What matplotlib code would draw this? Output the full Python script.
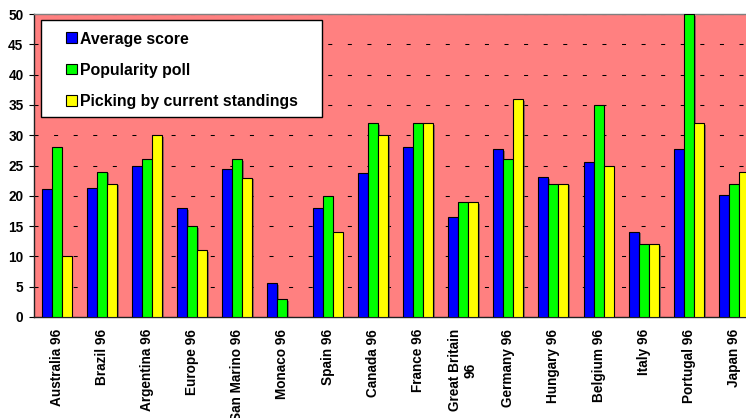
import numpy as np
import matplotlib
matplotlib.use("Agg")
import matplotlib.pyplot as plt
from matplotlib.patches import Rectangle
import matplotlib.patheffects as pe

categories = ["Australia 96", "Brazil 96", "Argentina 96", "Europe 96", "San Marino 96",
              "Monaco 96", "Spain 96", "Canada 96", "France 96", "Great Britain\n96",
              "Germany 96", "Hungary 96", "Belgium 96", "Italy 96", "Portugal 96", "Japan 96"]
average_score = [21.1, 21.3, 25.0, 18.0, 24.4, 5.6, 18.0, 23.7, 28.0, 16.5,
                 27.7, 23.1, 25.5, 14.1, 27.8, 20.1]
popularity_poll = [28, 24, 26, 15, 26, 3, 20, 32, 32, 19, 26, 22, 35, 12, 50, 22]
current_standings = [10, 22, 30, 11, 23, 0, 14, 30, 32, 19, 36, 22, 25, 12, 32, 24]
series_names = ["Average score", "Popularity poll", "Picking by current standings"]
series_colors = ["#0000FF", "#00FF00", "#FFFF00"]
y_ticks = [0, 5, 10, 15, 20, 25, 30, 35, 40, 45, 50]

plt.rcParams['font.family'] = ['Liberation Sans', 'DejaVu Sans']
plt.rcParams['font.weight'] = 'bold'
plt.rcParams['lines.scale_dashes'] = False

W, H = 746, 418
fig = plt.figure(figsize=(W / 100, H / 100), dpi=100)
fig.patch.set_facecolor("white")

ax_left, ax_top, ax_bottom = 34.0, 14.0, 317.0
slot = 45.17
ax_width = slot * len(categories)
ax = fig.add_axes([ax_left / W, (H - ax_bottom) / H, ax_width / W, (ax_bottom - ax_top) / H])
ax.set_facecolor("#FF8080")

x = np.arange(len(categories))
w = 0.2214
shadow = [pe.SimplePatchShadow(offset=(1.3, -1.3), shadow_rgbFace="#505050", alpha=0.6), pe.Normal()]
for i, (vals, col) in enumerate(zip([average_score, popularity_poll, current_standings], series_colors)):
    bars = ax.bar(x + (i - 1) * w, vals, width=w, color=col, edgecolor="black", linewidth=0.8,
                  zorder=3)
    for b in bars:
        if b.get_height() > 0:
            b.set_path_effects(shadow)
        else:
            b.set_visible(False)

ax.set_xlim(-0.5, len(categories) - 0.5)
ax.set_ylim(0, 50)
ax.set_yticks(y_ticks)
ax.set_yticklabels([str(t) for t in y_ticks], fontsize=9.8, fontweight='bold')
ax.set_xticks(x)
ax.set_xticklabels(categories, rotation=90, fontsize=9.8, fontweight='bold',
                   ha='center', va='top', multialignment='center', linespacing=1.15)
ax.tick_params(axis='x', length=0, pad=8.5)
ax.tick_params(axis='y', length=3.6, width=0.8, color='black', pad=4, direction='out')

ax.set_axisbelow(True)
ax.yaxis.grid(True, color='black', linewidth=0.75, linestyle=(0, (2.9, 11.2)), zorder=1)

for s in ['left', 'bottom']:
    ax.spines[s].set_color('#202020')
    ax.spines[s].set_linewidth(1.0)
ax.spines['top'].set_color('#808080')
ax.spines['top'].set_linewidth(1.0)
ax.spines['right'].set_visible(False)

# legend drawn in figure pixel coordinates
def fx(px):
    return px / W

def fy(py):
    return (H - py) / H

box_l, box_t, box_r, box_b = 40.5, 20.5, 321.5, 116.5
fig.patches.append(Rectangle((fx(box_l), fy(box_b)), fx(box_r) - fx(box_l), fy(box_t) - fy(box_b),
                             transform=fig.transFigure, facecolor='white', edgecolor='black',
                             linewidth=1.0, zorder=10))
row_y = [37.7, 69.0, 100.3]
for name, col, ry in zip(series_names, series_colors, row_y):
    fig.patches.append(Rectangle((fx(66), fy(ry + 5.2)), fx(76.5) - fx(66), fy(ry - 5.2) - fy(ry + 5.2),
                                 transform=fig.transFigure, facecolor=col, edgecolor='black',
                                 linewidth=0.8, zorder=11))
    fig.text(fx(80.5), fy(ry), name, fontsize=11.4, fontweight='bold', ha='left', va='center_baseline',
             zorder=12)

fig.savefig("out.png", dpi=100)
